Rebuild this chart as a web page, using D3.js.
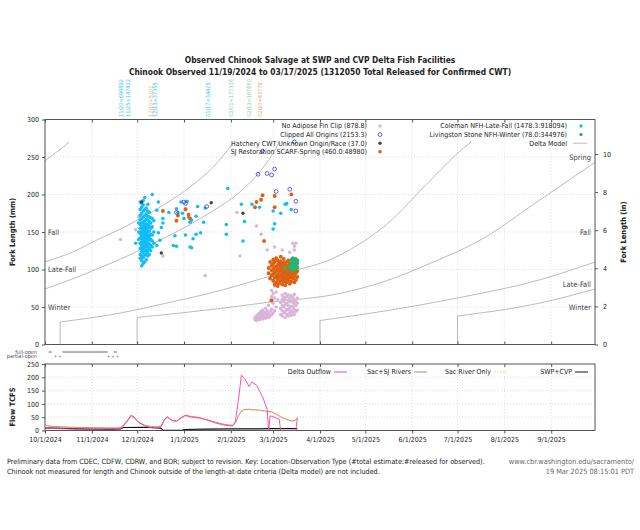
<!DOCTYPE html>
<html><head><meta charset="utf-8">
<script src="https://cdn.jsdelivr.net/npm/d3@7"></script>
<style>
body{margin:0;background:#fff;}
svg{display:block;font-family:"DejaVu Sans Condensed","DejaVu Sans",sans-serif;}
</style></head><body>
<svg id="c" width="640" height="530"></svg>
<script>
// ---------------- DATA ----------------
const titleLines = ["Observed Chinook Salvage at SWP and CVP Delta Fish Facilities",
  "Chinook Observed 11/19/2024 to 03/17/2025 (1312050 Total Released for Confirmed CWT)"];
const footerLeft = ["Preliminary data from CDEC, CDFW, CDRW, and BOR; subject to revision. Key: Location-Observation Type (#total estimate:#released for observed).",
  "Chinook not measured for length and Chinook outside of the length-at-date criteria (Delta model) are not included."];
const footerRight = ["www.cbr.washington.edu/sacramento/", "19 Mar 2025 08:15:01 PDT"];

const mmTicks = [0,50,100,150,200,250,300];
const inTicks = [0,2,4,6,8,10];
const flowTicks = [0,50,100,150,200,250];

// release annotations
const releaseDates = ["2024-11-20","2024-11-25","2024-12-10","2024-12-13","2025-01-17","2025-02-01","2025-02-13","2025-02-20"];
const releaseLabels = ["11/20=698892","11/25=147422","12/10=5201","12/13=37355","01/17=34425","02/01=177316","02/13=167660","02/20=43779"];
const releaseRun = ["coleman","coleman","sj","coleman","coleman","winter","winter","sj"];

// legend
const legendLeft = ["No Adipose Fin Clip (878.8)","Clipped All Origins (2153.3)","Hatchery CWT Unknown Origin/Race (37.0)","SJ Restoration SCARF-Spring (460.0:48980)"];
const legendLeftKeys = ["noad","clip","cwt","sj"];
const legendRight = ["Coleman NFH-Late-Fall (1478.3:918094)","Livingston Stone NFH-Winter (78.0:344976)","Delta Model"];
const legendRightKeys = ["coleman","winter","model"];

// Delta model length-at-date curves [date, mm]
const modelFallPrev = [["2024-10-01",245],["2024-10-09",257],["2024-10-17",270]];
const modelLateFallPrev = [["2024-10-01",110],["2024-10-20",124],["2024-11-06",141],["2024-11-20",154],["2024-12-05",170],["2024-12-20",188],["2025-01-05",210],["2025-01-20",236],["2025-02-03",270]];
const modelWinterPrev = [["2024-10-01",74],["2024-10-20",88],["2024-11-06",102],["2024-11-20",114],["2024-12-05",128],["2024-12-20",143],["2025-01-05",160],["2025-01-20",178],["2025-02-05",200],["2025-02-20",230],["2025-03-03",262],["2025-03-05",270]];
const modelSpring = [["2024-10-11",0],["2024-10-11",30],["2024-11-20",42],["2024-12-20",55],["2025-01-25",72],["2025-02-25",90],["2025-04-14",119],["2025-05-15",160],["2025-06-14",221],["2025-07-05",262],["2025-07-10",270]];
const modelFall = [["2024-12-01",0],["2024-12-01",36],["2025-01-25",48],["2025-02-25",56],["2025-04-14",68],["2025-05-15",85],["2025-06-15",110],["2025-07-15",138],["2025-08-24",192],["2025-09-30",243]];
const modelLateFall = [["2025-04-01",0],["2025-04-01",32],["2025-05-15",45],["2025-07-01",62],["2025-08-24",86],["2025-09-30",110]];
const modelWinter = [["2025-07-01",0],["2025-07-01",38],["2025-08-24",55],["2025-09-30",74]];
const leftRunLabels = ["Fall","Late-Fall","Winter"];
const rightRunLabels = ["Spring","Fall","Late-Fall","Winter"];

// Fish observations [date, fork length mm]
const colemanByDay = [
 ["2024-11-30",[135]],
 ["2024-12-02",[150,162,140]],
 ["2024-12-03",[128,135,142,148,155,160,166,172,180,190,120,115]],
 ["2024-12-04",[105,112,118,124,130,133,137,141,145,150,153,157,162,168,175,183,188]],
 ["2024-12-05",[108,116,122,127,131,136,139,143,147,151,154,158,163,170,178,186,192]],
 ["2024-12-06",[110,119,125,129,134,138,142,146,149,152,156,160,165,172,180,196]],
 ["2024-12-07",[113,121,126,132,137,140,144,148,153,157,161,167,174,182]],
 ["2024-12-08",[118,124,130,135,141,146,150,155,160,166,171,178,187]],
 ["2024-12-09",[120,128,134,139,144,151,158,164,170,176]],
 ["2024-12-10",[125,132,140,147,155,162,169]],
 ["2024-12-11",[130,138,146,157,168,200]],
 ["2024-12-12",[135,150,165]]
];
const colemanScatter = [["2024-12-15",190],["2024-12-14",179],["2024-12-18",168],["2024-12-18",162],["2024-12-17",156],["2024-12-15",149],["2024-12-16",139],["2024-12-14",132],
 ["2024-12-22",176],["2024-12-27",181],["2024-12-28",176],["2024-12-30",190],["2025-01-03",191],["2025-01-02",181],["2024-12-31",175],["2025-01-01",168],["2025-01-04",170],
 ["2025-01-05",163],["2025-01-06",166],["2025-01-09",171],["2025-01-10",184],["2025-01-15",182],["2025-01-14",163],["2025-01-12",149],["2025-01-09",147],["2025-01-07",141],
 ["2025-01-02",146],["2024-12-26",145],["2024-12-25",132],["2024-12-27",131],["2025-01-05",130],["2025-01-06",129],["2025-01-30",208],["2025-02-08",187],["2025-02-10",164],
 ["2025-01-29",160],["2025-01-29",147],["2025-02-09",138],["2025-02-15",187],["2025-02-20",183],["2025-03-01",178],["2025-03-02",161],["2025-03-01",154],["2025-03-06",175],
 ["2025-03-09",187],["2025-03-10",188],["2025-03-13",180],["2025-03-14",114],["2025-03-16",112]];
const clippedAll = [["2025-01-01",190],["2025-01-02",188],["2024-12-27",176],["2025-01-16",184],["2025-02-22",258],["2025-02-19",227],["2025-02-25",228],["2025-02-28",226],
 ["2025-03-02",234],["2025-03-03",204],["2025-03-12",207],["2025-03-16",191],["2025-03-16",178],["2025-03-15",270]];
const hatcheryCWT = [["2024-12-04",190],["2025-01-19",189],["2025-02-09",175],["2024-12-17",122]];
const sjScatter = [["2024-12-18",178],["2024-12-28",172],["2024-12-27",165],["2025-01-02",180],["2025-01-04",173],["2025-01-05",168],["2025-02-22",199],["2025-02-21",193],
 ["2025-02-18",190],["2025-02-17",183],["2025-03-02",198],["2025-03-02",183],["2025-03-13",200],["2025-02-23",138],["2025-02-28",59]];
const sjByDay = [
 ["2025-02-26",[95,102]],["2025-02-27",[88,110]],["2025-02-28",[92,99,105]],["2025-03-01",[85,94,100,108,113]],
 ["2025-03-02",[80,89,96,103,110]],["2025-03-03",[83,91,98,104,115]],["2025-03-04",[78,87,93,100,106,112]],["2025-03-05",[82,90,97,102,108]],
 ["2025-03-06",[85,92,99,105,111,117]],["2025-03-07",[80,88,95,101,107]],["2025-03-08",[84,91,97,103,109,114]],["2025-03-09",[79,87,94,100,106]],
 ["2025-03-10",[83,90,96,102,110]],["2025-03-11",[86,93,99,105,112]],["2025-03-12",[81,89,95,101,108]],["2025-03-13",[84,92,98,104]],
 ["2025-03-14",[88,94,100,107]],["2025-03-15",[83,91,97,103]],["2025-03-16",[86,95,101]],["2025-03-17",[90,98]]];
const winterByDay = [["2025-03-09",[102]],["2025-03-12",[104]],["2025-03-13",[100,108,113]],["2025-03-14",[99,103,107,111,115]],["2025-03-15",[100,104,109,113]],
 ["2025-03-16",[101,106,110,114]],["2025-03-17",[103,108,112]]];
const noAdScatter = [["2024-11-20",140],["2024-11-30",153],["2024-12-02",170],["2024-12-18",118],["2025-01-15",92],["2025-02-05",176],["2025-02-18",158],["2025-02-21",147],
 ["2025-02-25",126],["2025-02-07",118],["2025-03-02",130],["2025-03-07",126],["2025-03-12",123],["2025-03-15",126],["2025-03-15",131],["2025-03-14",135],["2025-03-16",135]];
const noAdByDay = [
 ["2025-02-17",[33,36]],["2025-02-18",[32,35,38]],["2025-02-19",[34,37,40]],["2025-02-20",[33,36,39,42]],["2025-02-21",[35,38,41,44]],
 ["2025-02-22",[34,37,40,46]],["2025-02-23",[36,39,43]],["2025-02-24",[35,38,42,48]],["2025-02-25",[37,40,45]],["2025-02-26",[36,41,52]],
 ["2025-02-27",[38,44,58]],["2025-02-28",[40,47,64,72]],["2025-03-01",[42,55,68]],["2025-03-02",[45,62,78]],["2025-03-03",[50,70]],["2025-03-04",[60,81]],
 ["2025-03-06",[40,48,56]],["2025-03-07",[38,45,52,60,66]],["2025-03-08",[42,50,57,63]],["2025-03-09",[36,44,53,61,68]],["2025-03-10",[40,47,55,64]],
 ["2025-03-11",[38,46,52,59,66]],["2025-03-12",[42,49,57,62]],["2025-03-13",[39,45,51,58,65]],["2025-03-14",[43,50,56,63]],["2025-03-15",[40,47,54,60,67]],
 ["2025-03-16",[44,52,58]],["2025-03-17",[46,55,62]]];

// gate operations
const gateLabels = ["full-open","partial-open"];
const fullOpenDates = ["2024-10-04","2024-10-05","2024-10-13","2024-10-14","2024-10-15","2024-10-16","2024-10-17","2024-10-18","2024-10-19","2024-10-20","2024-10-21",
 "2024-10-22","2024-10-23","2024-10-24","2024-10-25","2024-10-26","2024-10-27","2024-10-28","2024-10-29","2024-10-30","2024-10-31","2024-11-01","2024-11-02",
 "2024-11-03","2024-11-04","2024-11-05","2024-11-06","2024-11-07","2024-11-08","2024-11-09","2024-11-10","2024-11-11","2024-11-16","2024-11-17"];
const partialOpenDates = ["2024-10-08","2024-10-11","2024-11-12","2024-11-15","2024-11-18"];

// flows (TCFS)
const flowLegend = ["Delta Outflow","Sac+SJ Rivers","Sac River Only","SWP+CVP"];
const deltaOutflow = [["2024-10-01",12],["2024-10-04",9],["2024-10-08",7],["2024-10-15",6],["2024-10-22",5],["2024-11-01",5],["2024-11-10",6],["2024-11-18",7],["2024-11-21",10],
 ["2024-11-24",32],["2024-11-27",58],["2024-11-29",50],["2024-12-02",30],["2024-12-06",17],["2024-12-10",11],["2024-12-14",9],["2024-12-17",15],["2024-12-19",40],["2024-12-21",52],
 ["2024-12-24",38],["2024-12-27",34],["2024-12-30",48],["2025-01-02",58],["2025-01-06",52],["2025-01-10",50],["2025-01-16",40],["2025-01-22",28],["2025-01-28",20],["2025-02-02",17],
 ["2025-02-04",34],["2025-02-06",115],["2025-02-08",208],["2025-02-10",196],["2025-02-13",166],["2025-02-15",182],["2025-02-18",170],["2025-02-22",127],["2025-02-25",80],
 ["2025-02-26",0],["2025-02-27",55],["2025-03-01",52],["2025-03-05",42],["2025-03-06",0],["2025-03-16",0],["2025-03-17",48]];
const sacSJ = [["2024-10-01",20],["2024-10-05",16],["2024-10-12",14],["2024-10-20",12],["2024-11-01",11],["2024-11-10",10],["2024-11-20",10],["2024-11-24",33],["2024-11-27",55],
 ["2024-11-29",48],["2024-12-02",32],["2024-12-06",20],["2024-12-10",15],["2024-12-14",14],["2024-12-17",18],["2024-12-19",42],["2024-12-21",50],["2024-12-24",38],["2024-12-27",36],
 ["2024-12-30",48],["2025-01-02",56],["2025-01-06",50],["2025-01-10",48],["2025-01-16",41],["2025-01-22",31],["2025-01-28",23],["2025-02-02",19],["2025-02-04",28],["2025-02-06",55],
 ["2025-02-08",74],["2025-02-10",79],["2025-02-13",80],["2025-02-16",78],["2025-02-20",77],["2025-02-24",73],["2025-02-28",70],["2025-03-03",62],["2025-03-06",52],["2025-03-09",44],
 ["2025-03-12",38],["2025-03-14",35],["2025-03-16",40],["2025-03-17",48]];
const sacOnly = [["2024-10-01",17],["2024-10-05",14],["2024-10-12",12],["2024-10-20",10],["2024-11-01",9],["2024-11-10",8],["2024-11-20",8],["2024-11-24",30],["2024-11-27",52],
 ["2024-11-29",45],["2024-12-02",29],["2024-12-06",17],["2024-12-10",12],["2024-12-14",11],["2024-12-17",15],["2024-12-19",39],["2024-12-21",47],["2024-12-24",35],["2024-12-27",33],
 ["2024-12-30",45],["2025-01-02",53],["2025-01-06",47],["2025-01-10",45],["2025-01-16",38],["2025-01-22",28],["2025-01-28",20],["2025-02-02",16],["2025-02-04",25],["2025-02-06",52],
 ["2025-02-08",71],["2025-02-10",76],["2025-02-13",77],["2025-02-16",75],["2025-02-20",74],["2025-02-24",70],["2025-02-28",67],["2025-03-03",59],["2025-03-06",49],["2025-03-09",41],
 ["2025-03-12",35],["2025-03-14",32],["2025-03-16",37],["2025-03-17",45]];
const swpCvp = [["2024-10-01",10],["2024-10-10",9],["2024-10-20",7],["2024-11-01",5],["2024-11-15",5],["2024-11-20",6],["2024-11-22",11],["2024-12-05",12],["2024-12-15",10],
 ["2024-12-17",8],["2024-12-18",1],["2024-12-31",1],["2025-01-01",4],["2025-01-15",5],["2025-02-01",6],["2025-02-15",6],["2025-03-01",7],["2025-03-17",7]];

// ---------------- DRAW ----------------
const parse = d3.timeParse("%Y-%m-%d");
const X0=45, X1=595, YT=119.5, YB=344.5, FT=364, FB=430.5;
const color = {noad:"#d9b5d9", clip:"#3a3ad6", cwt:"#444", sj:"#dd6010", coleman:"#12bdf5", winter:"#27b56e", model:"#aaa"};
const annoColor = {coleman:"#3cc4f2", sj:"#f0a070", winter:"#88cfa6"};
const svg = d3.select("#c");
const x = d3.scaleTime().domain([parse("2024-10-01"), parse("2025-09-30")]).range([X0,X1]);
const y = d3.scaleLinear().domain([0,300]).range([YB,YT]);
const yIn = d3.scaleLinear().domain([0,300/25.4]).range([YB,YT]);
const yF = d3.scaleLinear().domain([0,250]).range([FB,FT]);
const months = d3.timeMonth.range(parse("2024-10-01"), parse("2025-09-30"));
const fmt = d3.timeFormat("%-m/%-d/%Y");
const TXT = "#222";

svg.append("rect").attr("width",640).attr("height",530).attr("fill","#fff");
svg.append("defs").html(`<clipPath id="cp"><rect x="${X0}" y="${YT}" width="${X1-X0}" height="${YB-YT}"/></clipPath>
<clipPath id="cf"><rect x="${X0}" y="${FT}" width="${X1-X0}" height="${FB-FT}"/></clipPath>`);

// titles
svg.selectAll("text.title").data(titleLines).join("text")
  .attr("x",320).attr("y",(d,i)=>63+i*11.7).attr("text-anchor","middle")
  .attr("font-weight","bold").attr("font-size",8.4).attr("fill",TXT).text(d=>d);

// grids
function grid(y0,y1,yScale,vals){
  const g = svg.append("g").attr("stroke","#c8c8c8").attr("stroke-width",0.6).attr("stroke-dasharray","1,2");
  g.selectAll("line.v").data(months).join("line").attr("x1",d=>x(d)).attr("x2",d=>x(d)).attr("y1",y0).attr("y2",y1);
  g.selectAll("line.h").data(vals).join("line").attr("x1",X0).attr("x2",X1).attr("y1",d=>yScale(d)).attr("y2",d=>yScale(d));
}
grid(YT,YB,y,[50,100,150,200,250]);
grid(FT,FB,yF,[50,100,150,200]);

// release annotations
svg.selectAll("text.rel").data(releaseDates).join("text")
  .attr("transform",(d)=>`translate(${x(parse(d))},117) rotate(-90)`)
  .attr("dy","0.35em").attr("font-size",5.6).attr("fill",(d,i)=>annoColor[releaseRun[i]])
  .text((d,i)=>releaseLabels[i]);

// Delta model curves
const mline = d3.line().x(d=>x(parse(d[0]))).y(d=>y(d[1])).curve(d3.curveMonotoneX);
const mlineV = d3.line().x(d=>x(parse(d[0]))).y(d=>y(d[1]));
const gm = svg.append("g").attr("clip-path","url(#cp)").attr("fill","none").attr("stroke",color.model).attr("stroke-width",0.8);
[modelFallPrev,modelLateFallPrev,modelWinterPrev].forEach(c=>gm.append("path").attr("d",mline(c)));
[modelSpring,modelFall,modelLateFall,modelWinter].forEach(c=>{
  gm.append("path").attr("d",mlineV(c.slice(0,2)));
  gm.append("path").attr("d",mline(c.slice(1)));
});
// run labels
const gl = svg.append("g").attr("font-size",7.5).attr("fill","#444");
gl.selectAll("text.l").data(leftRunLabels).join("text").attr("x",48).attr("y",(d,i)=>y([150,100,50][i])).attr("dy","0.35em").text(d=>d);
gl.selectAll("text.r").data(rightRunLabels).join("text").attr("x",591).attr("text-anchor","end").attr("y",(d,i)=>[157,232,284,307][i]).attr("dy","0.35em").text(d=>d);

// points
const flat = byDay => byDay.flatMap(([d,v])=>v.map(m=>[d,m]));
const gp = svg.append("g").attr("clip-path","url(#cp)");
function dots(data,key,r){
  gp.append("g").selectAll("circle").data(data).join("circle")
    .attr("cx",d=>x(parse(d[0]))).attr("cy",d=>y(d[1])).attr("r",r).attr("fill",color[key]);
}
dots(flat(noAdByDay).concat(noAdScatter),"noad",1.7);
dots(flat(colemanByDay).concat(colemanScatter),"coleman",1.8);
dots(flat(sjByDay).concat(sjScatter),"sj",1.9);
dots(flat(winterByDay),"winter",1.9);
dots(hatcheryCWT,"cwt",1.7);
gp.append("g").selectAll("circle").data(clippedAll).join("circle")
  .attr("cx",d=>x(parse(d[0]))).attr("cy",d=>y(d[1])).attr("r",1.9)
  .attr("fill","none").attr("stroke",color.clip).attr("stroke-width",0.8);

// legend
const gL = svg.append("g").attr("font-size",7).attr("fill",TXT);
legendLeft.forEach((t,i)=>{
  const yy = 126+i*8.6;
  gL.append("text").attr("x",367).attr("y",yy).attr("dy","0.35em").attr("text-anchor","end").text(t);
  const k = legendLeftKeys[i];
  if(k==="clip") gL.append("circle").attr("cx",380).attr("cy",yy).attr("r",1.9).attr("fill","none").attr("stroke",color.clip).attr("stroke-width",0.8);
  else gL.append("circle").attr("cx",380).attr("cy",yy).attr("r",1.7).attr("fill",color[k]);
});
legendRight.forEach((t,i)=>{
  const yy = 126+i*8.6;
  gL.append("text").attr("x",567).attr("y",yy).attr("dy","0.35em").attr("text-anchor","end").text(t);
  const k = legendRightKeys[i];
  if(k==="model") gL.append("line").attr("x1",573).attr("x2",587).attr("y1",yy).attr("y2",yy).attr("stroke",color.model).attr("stroke-width",0.8);
  else gL.append("circle").attr("cx",581).attr("cy",yy).attr("r",1.7).attr("fill",color[k]);
});

// frames
svg.append("rect").attr("x",X0).attr("y",YT).attr("width",X1-X0).attr("height",YB-YT).attr("fill","none").attr("stroke","#555").attr("stroke-width",1);
svg.append("rect").attr("x",X0).attr("y",FT).attr("width",X1-X0).attr("height",FB-FT).attr("fill","none").attr("stroke","#555").attr("stroke-width",1);

// axes
function styleAxis(g){ g.select(".domain").remove(); g.selectAll(".tick line").attr("stroke","#555"); g.selectAll(".tick text").attr("fill",TXT).attr("font-size",7); }
svg.append("g").attr("transform",`translate(${X0},0)`).call(d3.axisLeft(y).tickValues(mmTicks).tickSize(3).tickPadding(3)).call(styleAxis).attr("font-family",null);
svg.append("g").attr("transform",`translate(${X1},0)`).call(d3.axisRight(yIn).tickValues(inTicks).tickSize(3).tickPadding(5)).call(styleAxis).attr("font-family",null);
svg.append("g").attr("transform",`translate(0,${YT})`).call(d3.axisBottom(x).tickValues(months).tickSize(3).tickFormat("")).call(styleAxis);
svg.append("g").attr("transform",`translate(0,${YB})`).call(d3.axisTop(x).tickValues(months).tickSize(3).tickFormat("")).call(styleAxis);
svg.append("g").attr("transform",`translate(${X0},0)`).call(d3.axisLeft(yF).tickValues(flowTicks).tickSize(3).tickPadding(3)).call(styleAxis).attr("font-family",null);
svg.append("g").attr("transform",`translate(0,${FB})`).call(d3.axisBottom(x).tickValues(months).tickSize(3).tickPadding(4).tickFormat(fmt)).call(styleAxis).attr("font-family",null);
svg.append("g").attr("transform",`translate(0,${FT})`).call(d3.axisBottom(x).tickValues(months).tickSize(3).tickFormat("")).call(styleAxis);

// axis titles
svg.append("text").attr("transform","translate(15,232) rotate(-90)").attr("text-anchor","middle").attr("font-weight","bold").attr("font-size",7.5).attr("fill",TXT).text("Fork Length (mm)");
svg.append("text").attr("transform","translate(626,232) rotate(-90)").attr("text-anchor","middle").attr("font-weight","bold").attr("font-size",7.5).attr("fill",TXT).text("Fork Length (in)");
svg.append("text").attr("transform","translate(15,407) rotate(-90)").attr("text-anchor","middle").attr("font-weight","bold").attr("font-size",7.5).attr("fill",TXT).text("Flow TCFS");

// gate operations
const gG = svg.append("g");
gG.selectAll("text").data(gateLabels).join("text").attr("x",37).attr("y",(d,i)=>352+i*4.5).attr("dy","0.35em").attr("text-anchor","end").attr("font-size",5.5).attr("fill","#555").text(d=>d);
const cross = (cx,cy)=>`M${cx-1.1},${cy}H${cx+1.1}M${cx},${cy-1.1}V${cy+1.1}`;
gG.append("path").attr("d",fullOpenDates.map(d=>cross(x(parse(d)),352)).join("")).attr("stroke","#777").attr("stroke-width",0.5);
gG.append("path").attr("d",partialOpenDates.map(d=>cross(x(parse(d)),356.5)).join("")).attr("stroke","#777").attr("stroke-width",0.5);

// flow lines
const fline = d3.line().x(d=>x(parse(d[0]))).y(d=>yF(d[1]));
const gf = svg.append("g").attr("clip-path","url(#cf)").attr("fill","none");
gf.append("path").attr("d",fline(swpCvp)).attr("stroke","#111").attr("stroke-width",1.1);
gf.append("path").attr("d",fline(sacOnly)).attr("stroke","#e6cfa0").attr("stroke-width",0.9).attr("stroke-dasharray","1.5,1.5");
gf.append("path").attr("d",fline(sacSJ)).attr("stroke","#c08a64").attr("stroke-width",0.9);
gf.append("path").attr("d",fline(deltaOutflow)).attr("stroke","#ff3d9e").attr("stroke-width",0.9);

// flow legend
const flowStyles = [{s:"#ff3d9e",d:null},{s:"#c08a64",d:null},{s:"#e6cfa0",d:"1.5,1.5"},{s:"#111",d:null}];
const flowTextEnd = [331,411,491,572];
const gFL = svg.append("g").attr("font-size",7).attr("fill",TXT);
flowLegend.forEach((t,i)=>{
  gFL.append("text").attr("x",flowTextEnd[i]).attr("y",372).attr("dy","0.35em").attr("text-anchor","end").text(t);
  gFL.append("line").attr("x1",flowTextEnd[i]+3).attr("x2",flowTextEnd[i]+16).attr("y1",372).attr("y2",372).attr("stroke",flowStyles[i].s).attr("stroke-width",1).attr("stroke-dasharray",flowStyles[i].d);
});

// footer
svg.selectAll("text.fl").data(footerLeft).join("text").attr("x",7).attr("y",(d,i)=>464+i*10).attr("font-size",7.2).attr("fill",TXT).text(d=>d);
svg.selectAll("text.fr").data(footerRight).join("text").attr("x",634).attr("y",(d,i)=>464+i*10).attr("text-anchor","end").attr("font-size",7.3).attr("fill","#666").text(d=>d);
</script></body></html>
